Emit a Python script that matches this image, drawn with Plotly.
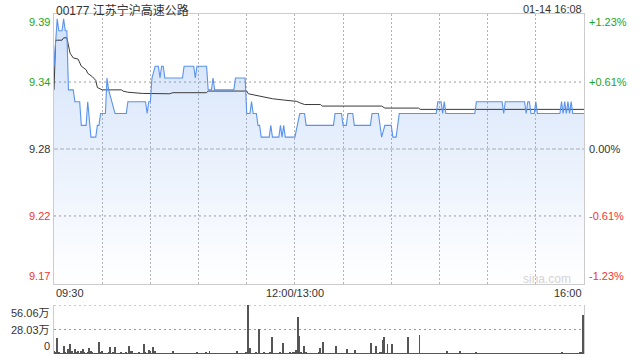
import plotly.graph_objects as go

# ---------------- data ----------------
title_text = "00177 江苏宁沪高速公路"
stamp_text = "01-14 16:08"
prev_close = 9.28
pct_span = 1.23  # percent at top/bottom of price axis
pct_mid = 0.61

left_labels = ["9.39", "9.34", "9.28", "9.22", "9.17"]
right_labels = ["+1.23%", "+0.61%", "0.00%", "-0.61%", "-1.23%"]
x_tick_minutes = [0, 150, 330]
x_tick_labels = ["09:30", "12:00/13:00", "16:00"]
vol_tick_labels = ["56.06万", "28.03万", "0"]
vol_max = 56.06  # 万

# price vertices (minute index from 09:30, price)
price_t = [0, 2, 3, 5, 6, 7, 8, 9, 12, 13, 16, 17, 20, 21, 23, 26, 27, 28, 29, 32,
           33, 34, 36, 38, 45, 46, 57, 58, 59, 60, 61, 63, 65, 66, 67, 68, 69, 80, 81, 87,
           88, 89, 95, 96, 98, 99, 100, 112, 113, 119, 120, 122, 123, 124, 126, 127, 128, 129, 134, 135,
           136, 140, 141, 142, 143, 144, 150, 153, 156, 157, 174, 175, 179, 180, 182, 183, 186, 187, 197, 198,
           202, 204, 206, 210, 211, 213, 215, 238, 239, 241, 242, 243, 244, 262, 263, 279, 280, 281, 293, 294,
           295, 296, 297, 299, 300, 301, 315, 316, 317, 318, 319, 320, 321, 322, 323, 330]
price_p = [9.35, 9.39, 9.38, 9.38, 9.39, 9.38, 9.38, 9.33, 9.33, 9.32, 9.32, 9.30, 9.30, 9.32, 9.29, 9.29, 9.30, 9.30, 9.31, 9.31,
           9.34, 9.33, 9.32, 9.31, 9.31, 9.32, 9.32, 9.31, 9.32, 9.32, 9.34, 9.35, 9.35, 9.34, 9.35, 9.35, 9.34, 9.34, 9.35, 9.35,
           9.34, 9.35, 9.35, 9.33, 9.33, 9.34, 9.33, 9.33, 9.34, 9.34, 9.31, 9.31, 9.32, 9.31, 9.31, 9.30, 9.30, 9.29, 9.29, 9.30,
           9.29, 9.29, 9.30, 9.29, 9.30, 9.29, 9.29, 9.31, 9.31, 9.30, 9.30, 9.31, 9.31, 9.30, 9.30, 9.31, 9.31, 9.30, 9.30, 9.31,
           9.31, 9.29, 9.30, 9.30, 9.29, 9.29, 9.31, 9.31, 9.32, 9.32, 9.31, 9.32, 9.31, 9.31, 9.32, 9.32, 9.31, 9.32, 9.32, 9.31,
           9.32, 9.32, 9.31, 9.31, 9.32, 9.31, 9.31, 9.32, 9.31, 9.32, 9.31, 9.32, 9.31, 9.32, 9.31, 9.31]

# average price vertices
avg_t = [0, 1, 5, 6, 8, 9, 10, 12, 15, 17, 20, 21, 24, 26, 27, 30, 42, 43, 46, 55,
         61, 72, 74, 95, 96, 120, 121, 126, 133, 136, 143, 151, 153, 156, 166, 167, 204, 206, 227, 228, 330]
avg_p = [9.330, 9.372, 9.372, 9.374, 9.374, 9.368, 9.361, 9.357, 9.356, 9.350, 9.347, 9.344, 9.341, 9.338, 9.332, 9.330, 9.330, 9.329, 9.328, 9.327,
         9.3267, 9.3267, 9.3276, 9.3276, 9.329, 9.329, 9.3267, 9.3253, 9.3239, 9.3225, 9.3214, 9.3203, 9.3191, 9.3176, 9.3176, 9.3163, 9.3163, 9.3146, 9.3146, 9.3135, 9.3135]

# volume per minute (万股), minutes 0..330
volume = [
    3.8, 1.2, 18.7, 1.5, 0.8, 1.0, 9.5, 1.2, 0.8, 6.0,
    11.4, 3.0, 1.0, 5.7, 1.5, 3.0, 0.8, 4.0, 5.5, 1.2,
    0.8, 1.5, 6.5, 3.0, 1.5, 0.8, 1.0, 0.6, 14.0, 1.2,
    3.5, 0.8, 1.0, 0.6, 1.2, 8.4, 0.8, 1.5, 7.5, 0.8,
    1.0, 0.6, 1.2, 0.8, 0.6, 1.5, 1.0, 9.5, 4.0, 3.0,
    0.8, 1.0, 0.6, 1.2, 0.8, 1.0, 11.8, 1.5, 0.8, 5.0,
    4.0, 1.0, 7.5, 3.0, 0.8, 0.6, 1.0, 0.5, 0.8, 0.6,
    0.5, 0.8, 0.6, 1.0, 4.0, 0.8, 0.5, 0.6, 0.8, 0.5,
    0.6, 0.5, 0.8, 0.6, 0.5, 1.0, 0.6, 0.8, 0.5, 1.2,
    0.6, 0.8, 1.0, 0.5, 0.6, 1.2, 0.8, 3.5, 1.0, 0.6,
    0.8, 0.5, 0.6, 0.8, 0.5, 0.6, 1.0, 0.5, 0.8, 0.6,
    0.5, 0.8, 0.6, 1.0, 4.0, 0.8, 0.6, 0.5, 0.8, 1.0,
    1.5, 56.06, 6.5, 0.8, 1.0, 0.6, 1.2, 0.8, 28.6, 1.0,
    0.8, 1.2, 0.6, 1.0, 0.8, 1.5, 19.8, 1.0, 0.6, 0.8,
    1.0, 1.5, 0.8, 12.2, 1.0, 0.6, 0.8, 1.2, 1.0, 1.5,
    2.0, 5.0, 42.7, 21.0, 1.5, 1.0, 9.5, 1.2, 0.8, 1.0,
    0.6, 0.8, 1.0, 0.6, 0.8, 1.2, 7.2, 0.8, 14.0, 1.0,
    0.6, 0.8, 0.5, 1.0, 0.8, 0.6, 9.2, 0.8, 1.0, 0.6,
    0.8, 0.5, 1.0, 6.0, 0.8, 0.6, 1.0, 0.8, 5.0, 0.6,
    0.8, 0.5, 0.6, 1.0, 0.8, 0.6, 0.8, 1.0, 13.0, 0.8,
    1.0, 9.5, 0.8, 1.2, 1.5, 16.0, 19.8, 1.0, 12.0, 0.8,
    1.0, 11.0, 0.8, 0.6, 1.0, 0.8, 0.6, 0.8, 1.0, 0.6,
    0.8, 19.8, 0.8, 0.6, 1.0, 0.8, 0.6, 0.8, 22.0, 0.8,
    0.6, 1.0, 0.8, 0.6, 0.8, 0.5, 0.6, 0.8, 1.0, 0.6,
    0.8, 0.6, 1.0, 0.8, 0.6, 4.0, 0.8, 0.6, 1.0, 0.8,
    0.6, 0.8, 1.0, 4.0, 0.8, 0.6, 0.5, 0.8, 0.6, 1.0,
    0.6, 0.5, 0.8, 1.2, 0.6, 0.8, 0.5, 1.0, 0.6, 0.8,
    0.5, 0.6, 0.8, 0.5, 1.0, 0.6, 0.8, 0.5, 0.6, 0.8,
    1.0, 0.6, 0.5, 0.8, 0.6, 1.0, 0.5, 0.8, 0.6, 0.5,
    0.8, 1.0, 0.6, 0.5, 0.8, 0.6, 1.0, 0.8, 0.5, 0.6,
    0.8, 1.0, 0.6, 0.5, 0.8, 0.6, 0.5, 1.0, 0.8, 0.6,
    0.5, 0.8, 1.0, 0.6, 0.8, 0.5, 0.6, 1.2, 0.8, 0.6,
    1.0, 0.8, 0.6, 0.5, 0.8, 0.6, 1.0, 0.8, 1.2, 1.5,
    44.6,
]
vol_minutes = list(range(len(volume)))

# ---------------- styling ----------------
W, H = 640, 360
FONT = "Arial, 'Liberation Sans', 'Noto Sans CJK SC', sans-serif"
GREEN = "#22a522"
RED = "#f03535"
DARK = "#333333"
GRID = "#b4b4b4"
HGRID = "#9c9c9c"
BORDER = "#cccccc"
BLUE = "#5a93ec"
DOT = "2px,2px"

px_left, px_right = 54, 584
p_top, p_bot = 14, 284
v_top, v_bot = 305, 354

y_hi = prev_close * (1 + pct_span / 100)
y_lo = prev_close * (1 - pct_span / 100)
y_mid_hi = prev_close * (1 + pct_mid / 100)
y_mid_lo = prev_close * (1 - pct_mid / 100)

xdom = [px_left / W, px_right / W]
ydom = [(H - p_bot) / H, (H - p_top) / H]
y2dom = [(H - v_bot) / H, (H - v_top) / H]

fig = go.Figure()

fig.add_trace(go.Scatter(
    x=price_t, y=price_p, mode="lines", line=dict(width=0, color=BLUE),
    fill="tozeroy",
    fillgradient=dict(type="vertical", start=y_lo, stop=y_hi,
                      colorscale=[[0, "rgba(90,147,236,0)"], [1, "rgba(90,147,236,0.28)"]]),
    hoverinfo="skip", showlegend=False, xaxis="x", yaxis="y"))
fig.add_trace(go.Scatter(x=avg_t, y=avg_p, mode="lines",
                         line=dict(width=1, color="#3a3a3a"),
                         showlegend=False, xaxis="x", yaxis="y"))
fig.add_trace(go.Scatter(x=price_t, y=price_p, mode="lines",
                         line=dict(width=1.1, color=BLUE),
                         showlegend=False, xaxis="x", yaxis="y"))
fig.add_trace(go.Bar(x=vol_minutes, y=volume, width=0.55,
                     marker=dict(color="#555555", line=dict(width=0)),
                     showlegend=False, xaxis="x2", yaxis="y2"))

shapes = []
for yv in (y_mid_hi, y_mid_lo):
    shapes.append(dict(type="line", xref="x domain", yref="y", x0=0, x1=1, y0=yv, y1=yv,
                       line=dict(color=HGRID, width=1, dash="2px,3px"), layer="below"))
shapes.append(dict(type="line", xref="x domain", yref="y", x0=0, x1=1, y0=prev_close, y1=prev_close,
                   line=dict(color="#b0b0b0", width=1, dash="4px,2px"), layer="below"))
for yv in (vol_max, vol_max / 2):
    shapes.append(dict(type="line", xref="x2 domain", yref="y2", x0=0, x1=1, y0=yv, y1=yv,
                       line=dict(color=HGRID, width=1, dash="2px,3px"), layer="below"))

annotations = []
annotations.append(dict(text=title_text, xref="paper", yref="paper", x=px_left / W, y=1 - 1 / H,
                        xanchor="left", yanchor="top", showarrow=False,
                        font=dict(family=FONT, size=12, color=DARK)))
annotations.append(dict(text=stamp_text, xref="paper", yref="paper", x=px_right / W, y=1 - 1 / H,
                        xanchor="right", yanchor="top", showarrow=False,
                        font=dict(family=FONT, size=11, color=DARK)))
lvals = [y_hi, y_mid_hi, prev_close, y_mid_lo, y_lo]
lanch = ["top", "middle", "middle", "middle", "bottom"]
lcols = [GREEN, GREEN, DARK, RED, RED]
for txt, yv, ya, c in zip(left_labels, lvals, lanch, lcols):
    annotations.append(dict(text=txt, xref="paper", yref="y", x=(px_left - 2) / W, y=yv,
                            xanchor="right", yanchor=ya, showarrow=False,
                            font=dict(family=FONT, size=11, color=c)))
for txt, yv, ya, c in zip(right_labels, lvals, lanch, lcols):
    annotations.append(dict(text=txt, xref="paper", yref="y", x=(px_right + 3) / W, y=yv,
                            xanchor="left", yanchor=ya, showarrow=False,
                            font=dict(family=FONT, size=11, color=c)))
xanch = ["left", "center", "right"]
for txt, xv, xa in zip(x_tick_labels, x_tick_minutes, xanch):
    annotations.append(dict(text=txt, xref="x", yref="paper", x=xv, y=(H - 293) / H,
                            xanchor=xa, yanchor="middle", showarrow=False,
                            font=dict(family=FONT, size=11, color=DARK)))
for txt, yv in zip(vol_tick_labels, [vol_max, vol_max / 2, 0]):
    annotations.append(dict(text=txt, xref="paper", yref="y2", x=(px_left - 2) / W, y=yv,
                            xanchor="right", yanchor="top" if yv == vol_max else ("bottom" if yv == 0 else "middle"),
                            showarrow=False,
                            font=dict(family=FONT, size=11, color=DARK)))
annotations.append(dict(text="sina.com", xref="paper", yref="paper", x=(px_right - 11) / W, y=(H - 279) / H,
                        xanchor="right", yanchor="middle", showarrow=False,
                        font=dict(family=FONT, size=12, color="#d4d4d4")))

fig.update_layout(
    width=W, height=H, margin=dict(l=0, r=0, t=0, b=0),
    paper_bgcolor="white", plot_bgcolor="white",
    bargap=0,
    xaxis=dict(domain=xdom, range=[0, 330], anchor="y", showline=True, mirror=True,
               linecolor=BORDER, linewidth=1, tickmode="linear", tick0=0, dtick=30,
               showticklabels=False, zeroline=False, ticks="",
               showgrid=True, gridcolor=GRID, gridwidth=1, griddash=DOT),
    yaxis=dict(domain=ydom, range=[y_lo, y_hi], showline=True, mirror=True,
               linecolor=BORDER, linewidth=1, showgrid=False,
               showticklabels=False, zeroline=False, ticks=""),
    xaxis2=dict(domain=xdom, range=[0, 330.6], anchor="y2", showline=False,
                showticklabels=False, showgrid=False, zeroline=False, ticks=""),
    yaxis2=dict(domain=y2dom, range=[0, vol_max], showline=True, mirror=True,
                linecolor=BORDER, linewidth=1, showgrid=False,
                showticklabels=False, zeroline=False, ticks=""),
    shapes=shapes, annotations=annotations,
    hovermode=False,
)

fig.write_html("out.html")
